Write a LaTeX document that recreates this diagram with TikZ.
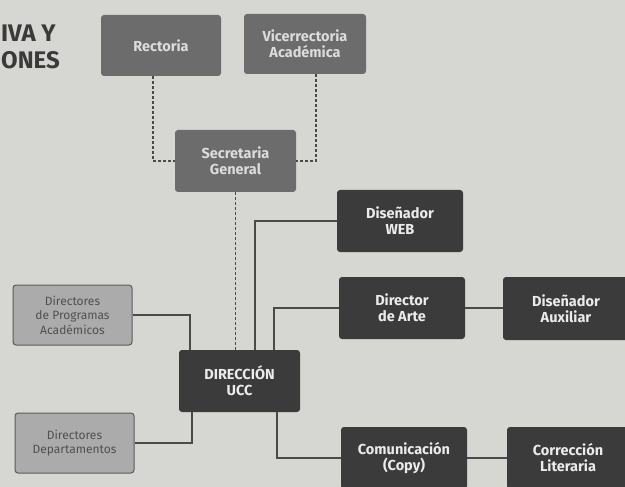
\documentclass[tikz,border=0pt]{standalone}
\usepackage{fontspec}
\setmainfont{Fira Sans}
\begin{document}
\begin{tikzpicture}[x=1pt,y=-1pt,
  box/.style={rounded corners=3pt, align=center, inner sep=2pt, font=\fontsize{14.5}{16}\selectfont\bfseries},
  midbox/.style={box, fill=midgray, text=lighttext},
  darkbox/.style={box, fill=darkgray2, text=white!92!black},
  lightbox/.style={rounded corners=3pt, align=center, inner sep=2pt, fill=lightgray2, draw=bordergray, line width=1pt, text=textgray, font=\fontsize{12}{14.5}\selectfont},
  conn/.style={draw=linegray, line width=1.5pt},
  dconn/.style={draw=linegray, line width=1.2pt, dash pattern=on 3pt off 2pt},
  head/.style={anchor=west, text=headgray, font=\fontsize{24}{26}\selectfont\bfseries, inner sep=0pt}
]
\definecolor{paper}{HTML}{D6D6D3}
\definecolor{midgray}{HTML}{6C6C6C}
\definecolor{lighttext}{HTML}{DCDCDC}
\definecolor{darkgray2}{HTML}{3B3B3B}
\definecolor{lightgray2}{HTML}{ABABAB}
\definecolor{bordergray}{HTML}{5A5A5A}
\definecolor{textgray}{HTML}{505050}
\definecolor{linegray}{HTML}{4A4A4A}
\definecolor{headgray}{HTML}{3A3A3A}
\useasboundingbox (0,0) rectangle (625,487);
\clip (0,0) rectangle (625,487);
\fill[paper] (0,0) rectangle (625,487);

\node[head] (h1) at (1,33) {IVA Y};
\node[head] (h2) at (1,60) {ONES};

\node[midbox, minimum width=120pt, minimum height=61pt] (rect) at (161,45.5) {Rectoria};
\node[midbox, minimum width=122pt, minimum height=60pt] (vice) at (305,44) {Vicerrectoria\\Académica};
\node[midbox, minimum width=121pt, minimum height=62pt] (secr) at (235.5,161) {Secretaria\\General};
\node[darkbox, minimum width=121pt, minimum height=62pt] (dir) at (239.5,381) {DIRECCIÓN\\UCC};
\node[darkbox, minimum width=126pt, minimum height=62pt] (web) at (400,221) {Diseñador\\WEB};
\node[darkbox, minimum width=126pt, minimum height=62pt] (arte) at (402,308) {Director\\de Arte};
\node[darkbox, minimum width=126pt, minimum height=63pt] (aux) at (566,308.5) {Diseñador\\Auxiliar};
\node[darkbox, minimum width=126pt, minimum height=62pt] (com) at (404,458) {Comunicación\\(Copy)};
\node[darkbox, minimum width=122pt, minimum height=62pt] (corr) at (568,458) {Corrección\\Literaria};
\node[lightbox, minimum width=119pt, minimum height=60pt] (prog) at (72.5,315) {Directores\\de Programas\\Académicos};
\node[lightbox, minimum width=119pt, minimum height=60pt] (dep) at (74.5,443) {Directores\\Departamentos};

\draw[dconn] ([xshift=-8pt]rect.south) |- (secr.west);
\draw[dconn] ([xshift=11pt]vice.south) |- (secr.east);
\draw[dconn] (secr.south) -- (secr.south |- dir.north);

\draw[conn] ([xshift=15.5pt]dir.north) |- (web.west);
\draw[conn] ([xshift=34.5pt]dir.north) |- (arte.west);
\draw[conn] ([xshift=37.5pt]dir.south) |- (com.west);
\draw[conn] (prog.east) -| ([xshift=-49.5pt]dir.north);
\draw[conn] (dep.east) -| ([xshift=-47.5pt]dir.south);
\draw[conn] (arte.east) -- (aux.west |- arte.east);
\draw[conn] (com.east) -- (corr.west |- com.east);
\end{tikzpicture}
\end{document}
